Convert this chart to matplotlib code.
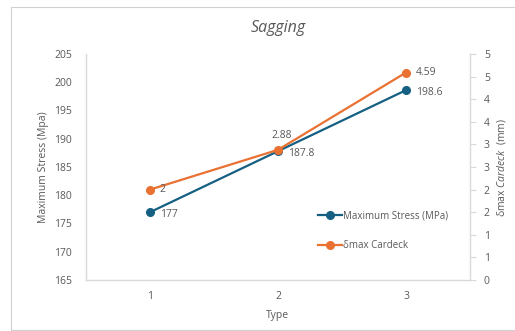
import math
import matplotlib
matplotlib.use("Agg")
import matplotlib.pyplot as plt
from matplotlib.patches import Rectangle
from matplotlib.ticker import FuncFormatter, MultipleLocator

plt.rcParams['font.family'] = ['Open Sans', 'DejaVu Sans']
plt.rcParams['mathtext.fontset'] = 'custom'
plt.rcParams['mathtext.it'] = 'Open Sans:italic'
plt.rcParams['mathtext.rm'] = 'Open Sans'

types = [1, 2, 3]
max_stress = [177, 187.8, 198.6]
delta_max = [2, 2.88, 4.59]

blue = '#156082'
orange = '#E97132'
grey_txt = '#595959'
grey_line = '#D9D9D9'

fig = plt.figure(figsize=(5.15, 3.31), dpi=100)
fig.patches.append(Rectangle((11 / 515, 1 / 331), 1.0, 1 - 8 / 331,
                             transform=fig.transFigure, fill=False,
                             edgecolor='#D0D0D0', linewidth=0.8))

ax = fig.add_axes([86 / 515, 51 / 331, 384 / 515, 226 / 331])
ax2 = ax.twinx()

ax.plot(types, max_stress, color=blue, marker='o', markersize=5.5, linewidth=1.6,
        label='Maximum Stress (MPa)')
ax2.plot(types, delta_max, color=orange, marker='o', markersize=5.5, linewidth=1.6,
         label='δmax Cardeck')

ax.set_xlim(0.5, 3.5)
ax.set_ylim(165, 205)
ax.yaxis.set_major_locator(MultipleLocator(5))
ax2.set_ylim(0, 5)
ax2.yaxis.set_major_locator(MultipleLocator(0.5))
ax2.yaxis.set_major_formatter(FuncFormatter(lambda v, p: str(int(math.floor(v + 0.5)))))
ax.set_xticks(types)

for a in (ax, ax2):
    for s in a.spines.values():
        s.set_visible(False)
ax.spines['left'].set_visible(True)
ax.spines['bottom'].set_visible(True)
ax2.spines['right'].set_visible(True)
for s in (ax.spines['left'], ax.spines['bottom'], ax2.spines['right']):
    s.set_color(grey_line)
    s.set_linewidth(1.0)

ax.tick_params(axis='y', length=0, pad=10, labelsize=7.5, labelcolor=grey_txt)
ax.tick_params(axis='x', length=0, pad=8, labelsize=7.5, labelcolor=grey_txt)
ax2.tick_params(axis='y', length=4, width=0.8, color=grey_line, pad=6,
                labelsize=7.5, labelcolor=grey_txt)

ax.set_title('Sagging', fontsize=11.5, style='italic', color=grey_txt, pad=16)
ax.set_xlabel('Type', fontsize=7.5, color=grey_txt, labelpad=6)
ax.set_ylabel('Maximum Stress (Mpa)', fontsize=7.5, color=grey_txt, labelpad=4)
ax2.set_ylabel(r'δmax $\it{Cardeck}$  (mm)', fontsize=7.5, color=grey_txt, labelpad=4)

# value labels
for x, v in zip(types, max_stress):
    ax.annotate(f'{v:g}', (x, v), xytext=(7, -2), textcoords='offset points',
                ha='left', va='center', fontsize=7.5, color=grey_txt)
for x, v in zip(types, delta_max):
    if x == 2:
        ax2.annotate(f'{v:g}', (x, v), xytext=(3, 6), textcoords='offset points',
                     ha='center', va='bottom', fontsize=7.5, color=grey_txt)
    else:
        ax2.annotate(f'{v:g}', (x, v), xytext=(7, 0), textcoords='offset points',
                     ha='left', va='center', fontsize=7.5, color=grey_txt)

h1, l1 = ax.get_legend_handles_labels()
h2, l2 = ax2.get_legend_handles_labels()
ax2.legend(h1 + h2, l1 + l2, loc='upper left', bbox_to_anchor=(0.595, 0.325),
           frameon=False, fontsize=7, labelcolor=grey_txt, labelspacing=1.9,
           handlelength=2.4, handletextpad=0.1, borderaxespad=0)

fig.savefig('out.png', dpi=100)
